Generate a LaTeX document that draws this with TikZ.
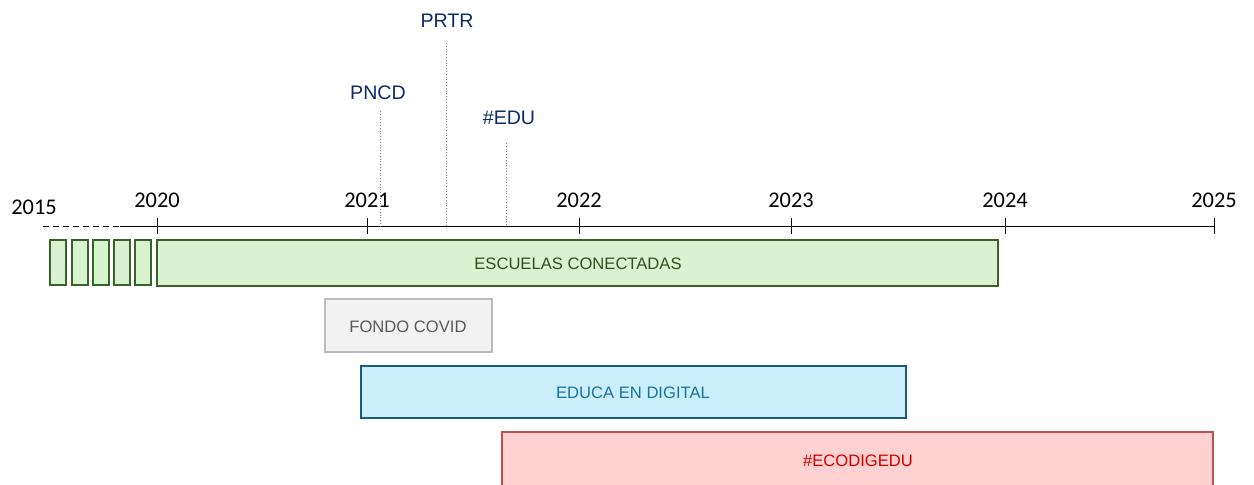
\documentclass[tikz,border=0pt]{standalone}
\usepackage{fontspec}
\setmainfont{Liberation Sans}
\newfontfamily\yearfont{Carlito}
\usetikzlibrary{calc}
\tikzset{>=latex}
\definecolor{escborder}{HTML}{38622A}
\definecolor{escfill}{HTML}{D9F2D0}
\definecolor{esctext}{HTML}{2F5220}
\definecolor{covborder}{HTML}{BBBBBB}
\definecolor{covfill}{HTML}{F2F2F2}
\definecolor{covtext}{HTML}{595959}
\definecolor{eduborder}{HTML}{1B5C7E}
\definecolor{edufill}{HTML}{CAEEFB}
\definecolor{edutext}{HTML}{1A7396}
\definecolor{ecoborder}{HTML}{C0504D}
\definecolor{ecofill}{HTML}{FFD1D1}
\definecolor{ecotext}{HTML}{D00000}
\definecolor{plantext}{HTML}{0E2A6B}

\begin{document}
\begin{tikzpicture}[x=0.5pt,y=-0.5pt,
    year/.style={font=\yearfont\fontsize{11.2}{13}\selectfont},
    plan/.style={text=plantext,font=\fontsize{9.8}{12}\selectfont},
    label/.style={font=\fontsize{8.3}{10}\selectfont}]
    \useasboundingbox (0,0) rectangle (1254,484);

    \coordinate (start) at (43,226);
    \coordinate (axisL) at (120,226);
    \coordinate (axisR) at (1214,226);

    % time axis
    \draw[densely dashed,line width=0.5pt] (start)--(133,226);
    \draw[line width=0.5pt] (axisL)--(axisR);
    \node[year] (y2015) at (34,207) {2015};
    \foreach \x/\yr in {157/2020,367/2021,579/2022,791/2023,1005/2024,1214/2025}{
        \draw[line width=0.5pt] (\x,218)--(\x,234);
        \node[year] (y\yr) at (\x,200) {\yr};
    }

    % plans
    \node[plan] (pncd) at (378,93) {PNCD};
    \node[plan] (prtr) at (447,21) {PRTR};
    \node[plan] (edu) at (509,118) {\#EDU};
    \draw[densely dotted,gray] (380,111)--(380,226);
    \draw[densely dotted,gray] (446,43)--(446,226);
    \draw[densely dotted,gray] (506,143)--(506,226);

    % programmes
    \foreach \x in {50,72,93,114,135}{
        \draw[escborder,fill=escfill,line width=1.4pt] (\x,240) rectangle ++(16,45);
    }
    \draw[escborder,fill=escfill,line width=1.4pt] (157,240) rectangle (998,286);
    \node[label,text=esctext] (esc) at (578,264) {ESCUELAS CONECTADAS};

    \draw[covborder,fill=covfill,line width=1.4pt] (325,299) rectangle (492,352);
    \node[label,text=covtext] (cov) at (408,327) {FONDO COVID};

    \draw[eduborder,fill=edufill,line width=1.4pt] (361,366) rectangle (906,418);
    \node[label,text=edutext] (educa) at (633,393) {EDUCA EN DIGITAL};

    \draw[ecoborder,fill=ecofill,line width=1.4pt] (502,432) rectangle (1213,490);
    \node[label,text=ecotext] (eco) at (858,461) {\#ECODIGEDU};
\end{tikzpicture}
\end{document}
